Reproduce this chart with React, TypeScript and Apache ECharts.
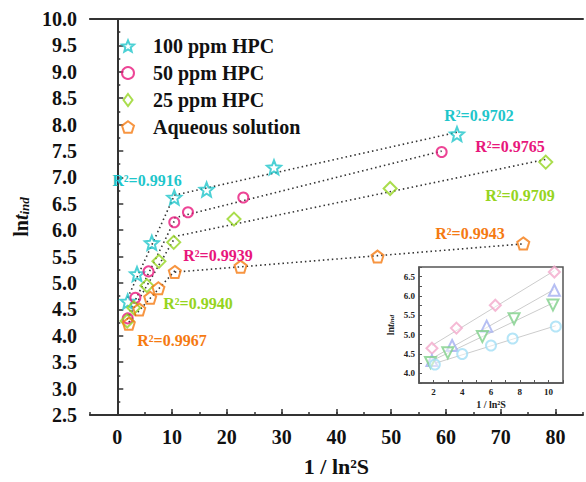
import React, { useEffect, useRef } from "react";
import * as echarts from "echarts";

// ---- data ----
const seriesNames = ["100 ppm HPC", "50 ppm HPC", "25 ppm HPC", "Aqueous solution"];
const hpc100X = [1.9, 3.6, 6.3, 10.4, 16.3, 28.6, 62.0];
const hpc100Y = [4.65, 5.17, 5.76, 6.62, 6.77, 7.19, 7.82];
const hpc50X = [1.9, 3.3, 5.7, 10.4, 12.9, 23.0, 59.2];
const hpc50Y = [4.33, 4.72, 5.22, 6.15, 6.34, 6.62, 7.48];
const hpc25X = [1.8, 3.0, 5.4, 7.6, 10.3, 21.3, 49.8, 78.2];
const hpc25Y = [4.28, 4.53, 4.95, 5.41, 5.77, 6.21, 6.79, 7.29];
const aqX = [2.1, 4.0, 6.0, 7.5, 10.5, 22.5, 47.5, 74.1];
const aqY = [4.23, 4.5, 4.72, 4.9, 5.21, 5.31, 5.5, 5.75];

const r2Labels = ["R²=0.9916", "R²=0.9702", "R²=0.9765", "R²=0.9709", "R²=0.9943", "R²=0.9939", "R²=0.9940", "R²=0.9967"];
const xMajorTicks = [0, 10, 20, 30, 40, 50, 60, 70, 80];

const FONT = '"Liberation Serif", "Times New Roman", serif';
const mainColors = ["#1fc6cb", "#e8177c", "#95d420", "#f57a12"];
const insetColors = ["#f2a9cb", "#a4aff0", "#7fd08a", "#a2def5"];

const STAR =
  "path://M0,-1 L0.26,-0.36 L0.951,-0.309 L0.42,0.137 L0.588,0.809 L0,0.44 L-0.588,0.809 L-0.42,0.137 L-0.951,-0.309 L-0.26,-0.36 Z";
const PENTAGON = "path://M0,-1 L0.951,-0.309 L0.588,0.809 L-0.588,0.809 L-0.951,-0.309 Z";
const DIAMOND = "path://M0,-1 L0.75,0 L0,1 L-0.75,0 Z";

function fitLine(xs: number[], ys: number[]) {
  const n = xs.length;
  const mx = xs.reduce((a, b) => a + b, 0) / n;
  const my = ys.reduce((a, b) => a + b, 0) / n;
  let sxy = 0;
  let sxx = 0;
  for (let i = 0; i < n; i++) {
    sxy += (xs[i] - mx) * (ys[i] - my);
    sxx += (xs[i] - mx) * (xs[i] - mx);
  }
  const b = sxy / sxx;
  const a = my - b * mx;
  const x0 = Math.min(...xs);
  const x1 = Math.max(...xs);
  return [
    [x0, a + b * x0],
    [x1, a + b * x1],
  ];
}

function segment(xs: number[], ys: number[], lo: number, hi: number) {
  const sx: number[] = [];
  const sy: number[] = [];
  xs.forEach((x, i) => {
    if (x >= lo && x <= hi) {
      sx.push(x);
      sy.push(ys[i]);
    }
  });
  return [sx, sy];
}

export default function App() {
  const ref = useRef<HTMLDivElement>(null);
  useEffect(() => {
    if (!ref.current) return;
    const chart = echarts.init(ref.current, null, { renderer: "svg" });
    const allX = [hpc100X, hpc50X, hpc25X, aqX];
    const allY = [hpc100Y, hpc50Y, hpc25Y, aqY];
    const symbols = [STAR, "circle", DIAMOND, PENTAGON];
    const sizes = [14, 10, 13, 12];

    const series: any[] = [];
    // dotted fit lines (main)
    for (let k = 0; k < 4; k++) {
      const [s1x, s1y] = segment(allX[k], allY[k], 0, 10.6);
      const [s2x, s2y] = segment(allX[k], allY[k], 10, 100);
      [fitLine(s1x, s1y), fitLine(s2x, s2y)].forEach((d) => {
        series.push({
          type: "line",
          xAxisIndex: 0,
          yAxisIndex: 0,
          data: d,
          symbol: "none",
          silent: true,
          lineStyle: { color: "#333", width: 1.6, type: [1.5, 3] },
          z: 3,
        });
      });
    }
    // main scatter
    for (let k = 0; k < 4; k++) {
      series.push({
        name: seriesNames[k],
        type: "scatter",
        xAxisIndex: 0,
        yAxisIndex: 0,
        data: allX[k].map((x, i) => [x, allY[k][i]]),
        symbol: symbols[k],
        symbolSize: sizes[k],
        itemStyle: { color: "rgba(255,255,255,0)", borderColor: mainColors[k], borderWidth: 2 },
        z: 4,
      });
    }
    // inset lines + scatter
    const insetSymbols = ["diamond", "triangle", "triangle", "circle"];
    const insetRot = [0, 0, 180, 0];
    const insetSizes = [11, 11, 11, 10];
    for (let k = 0; k < 4; k++) {
      const [sx, sy] = segment(allX[k], allY[k], 0, 10.6);
      series.push({
        type: "line",
        xAxisIndex: 3,
        yAxisIndex: 1,
        data: fitLine(sx, sy),
        symbol: "none",
        silent: true,
        lineStyle: { color: "#cccccc", width: 1 },
        z: 8,
      });
      series.push({
        type: "scatter",
        xAxisIndex: 3,
        yAxisIndex: 1,
        data: sx.map((x, i) => [x, sy[i]]),
        symbol: insetSymbols[k],
        symbolRotate: insetRot[k],
        symbolSize: insetSizes[k],
        itemStyle: { color: "rgba(255,255,255,0.6)", borderColor: insetColors[k], borderWidth: 2 },
        z: 9,
      });
    }

    const r2Pos = [
      [147, 180, 0],
      [479, 115, 0],
      [510, 146, 1],
      [520, 195, 2],
      [470, 233, 3],
      [218, 255, 1],
      [198, 303, 2],
      [172, 340, 3],
    ];

    const axisLineStyle = { color: "#333", width: 2 };

    chart.setOption({
      animation: false,
      backgroundColor: "#fff",
      textStyle: { fontFamily: FONT },
      grid: [
        { left: 89, top: 19, width: 495, height: 400 },
        {
          left: 419,
          top: 267,
          width: 144,
          height: 116,
          show: true,
          borderColor: "#555",
          borderWidth: 1.5,
          backgroundColor: "#fff",
        },
      ],
      legend: {
        data: seriesNames,
        orient: "vertical",
        left: 116,
        top: 31,
        itemWidth: 12,
        itemHeight: 12,
        itemGap: 7,
        textStyle: {
          fontSize: 20,
          fontWeight: "bold",
          fontFamily: FONT,
          color: "#111",
          lineHeight: 20,
          padding: [0, 0, 0, 14],
        },
      },
      xAxis: [
        {
          gridIndex: 0,
          type: "value",
          min: -5,
          max: 85,
          interval: 5,
          position: "bottom",
          name: "1 / ln²S",
          nameLocation: "middle",
          nameGap: 40,
          nameTextStyle: { fontSize: 22, fontWeight: "bold", color: "#111", fontFamily: FONT },
          axisLine: { lineStyle: axisLineStyle },
          axisTick: { inside: true, length: 3, lineStyle: { color: "#333", width: 1.5 } },
          axisLabel: {
            fontSize: 20,
            fontWeight: "bold",
            color: "#111",
            fontFamily: FONT,
            margin: 12,
            formatter: (v: number) => (v >= 0 && v % 10 === 0 ? String(v) : ""),
          },
          splitLine: { show: false },
        },
        {
          gridIndex: 0,
          type: "value",
          min: -5,
          max: 85,
          position: "bottom",
          axisLine: { show: false },
          axisTick: { inside: true, length: 6, customValues: xMajorTicks, lineStyle: { color: "#333", width: 1.5 } },
          axisLabel: { show: false },
          splitLine: { show: false },
        },
        {
          gridIndex: 0,
          type: "value",
          min: -5,
          max: 85,
          position: "top",
          axisLine: { lineStyle: axisLineStyle },
          axisTick: { show: false },
          axisLabel: { show: false },
          splitLine: { show: false },
        },
        {
          gridIndex: 1,
          type: "value",
          min: 1,
          max: 11,
          interval: 1,
          name: "1 / ln²S",
          nameLocation: "middle",
          nameGap: 16,
          nameTextStyle: { fontSize: 10, fontWeight: "bold", color: "#222", fontFamily: FONT },
          axisLine: { lineStyle: { color: "#555", width: 1.5 } },
          axisTick: { inside: true, length: 3, lineStyle: { color: "#555" } },
          axisLabel: {
            fontSize: 9,
            fontWeight: "bold",
            color: "#222",
            fontFamily: FONT,
            margin: 4,
            formatter: (v: number) => (v % 2 === 0 ? String(v) : ""),
          },
          splitLine: { show: false },
        },
      ],
      yAxis: [
        {
          gridIndex: 0,
          type: "value",
          min: 2.5,
          max: 10,
          interval: 0.5,
          name: "{a|ln}{b|t}{c|ind}",
          nameLocation: "middle",
          nameGap: 58,
          nameTextStyle: {
            rich: {
              a: { fontSize: 20, fontWeight: "bold", fontFamily: FONT, color: "#111", lineHeight: 20, verticalAlign: "top" },
              b: { fontSize: 20, fontWeight: "bold", fontStyle: "italic", fontFamily: FONT, color: "#111", lineHeight: 20, verticalAlign: "top" },
              c: {
                fontSize: 13,
                fontWeight: "bold",
                fontStyle: "italic",
                fontFamily: FONT,
                color: "#111",
                lineHeight: 13,
                verticalAlign: "bottom",
                padding: [10, 0, 0, 0],
              },
            },
          },
          axisLine: { lineStyle: axisLineStyle },
          axisTick: { inside: true, length: 6, lineStyle: { color: "#333", width: 1.5 } },
          minorTick: { show: true, splitNumber: 2, length: 3, lineStyle: { color: "#333", width: 1.5 } },
          axisLabel: {
            fontSize: 20,
            fontWeight: "bold",
            color: "#111",
            fontFamily: FONT,
            margin: 13,
            formatter: (v: number) => v.toFixed(1),
          },
          splitLine: { show: false },
          minorSplitLine: { show: false },
        },
        {
          gridIndex: 1,
          type: "value",
          min: 3.75,
          max: 6.75,
          interval: 0.25,
          name: "{a|ln}{b|t}{c|ind}",
          nameLocation: "middle",
          nameGap: 24,
          nameTextStyle: {
            rich: {
              a: { fontSize: 10, fontWeight: "bold", fontFamily: FONT, color: "#222", lineHeight: 10, verticalAlign: "top" },
              b: { fontSize: 10, fontWeight: "bold", fontStyle: "italic", fontFamily: FONT, color: "#222", lineHeight: 10, verticalAlign: "top" },
              c: {
                fontSize: 7,
                fontWeight: "bold",
                fontStyle: "italic",
                fontFamily: FONT,
                color: "#222",
                lineHeight: 7,
                verticalAlign: "bottom",
                padding: [5, 0, 0, 0],
              },
            },
          },
          axisLine: { lineStyle: { color: "#555", width: 1.5 } },
          axisTick: { inside: true, length: 3, lineStyle: { color: "#555" } },
          axisLabel: {
            fontSize: 9,
            fontWeight: "bold",
            color: "#222",
            fontFamily: FONT,
            margin: 4,
            formatter: (v: number) => (Math.abs(v * 2 - Math.round(v * 2)) < 1e-6 ? v.toFixed(1) : ""),
          },
          splitLine: { show: false },
        },
      ],
      graphic: r2Pos.map((p, i) => ({
        type: "text",
        x: p[0],
        y: p[1],
        z: 10,
        style: {
          text: r2Labels[i],
          fill: mainColors[p[2]],
          fontSize: 16,
          fontWeight: "bold",
          fontFamily: FONT,
          align: "center",
          verticalAlign: "middle",
        },
      })),
      series,
    });
    return () => chart.dispose();
  }, []);
  return <div ref={ref} style={{ position: "absolute", left: 0, top: 0, width: 586, height: 482 }} />;
}
